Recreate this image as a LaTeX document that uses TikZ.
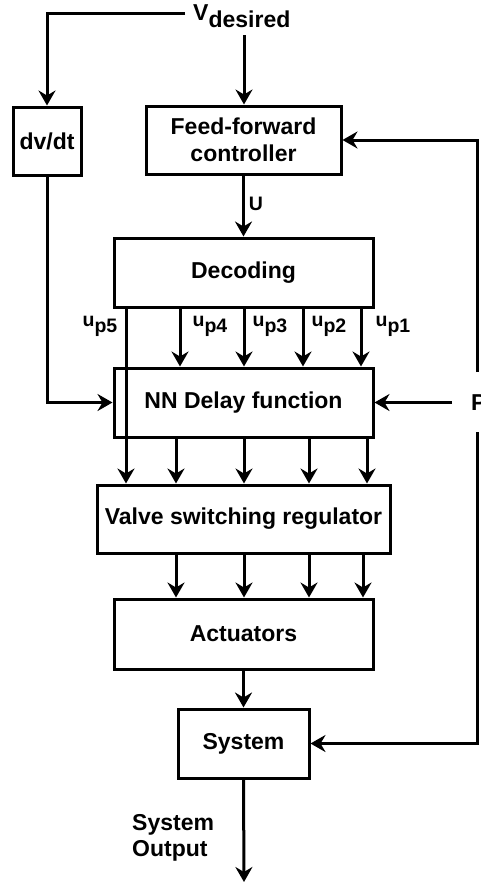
\documentclass[tikz,border=0pt]{standalone}
\usepackage{fontspec}
\setmainfont{Liberation Sans}
\usetikzlibrary{arrows.meta}
\begin{document}
\begin{tikzpicture}[x=1pt,y=-1pt,
  box/.style={draw, line width=3pt, inner sep=0pt, align=center,
    font=\fontsize{23}{27}\selectfont\bfseries},
  ar/.style={line width=3pt, -{Stealth[length=15pt,width=17pt,inset=5pt]}},
  lbl/.style={inner sep=0pt, font=\fontsize{19.5}{22}\selectfont\bfseries},
  big/.style={inner sep=0pt, align=left, font=\fontsize{23}{26}\selectfont\bfseries}]
\useasboundingbox (0,0) rectangle (480,884);

% boxes
\node[box, minimum width=68pt,  minimum height=68pt] (dvdt)  at (47,141)    {dv/dt};
\node[box, minimum width=195pt, minimum height=68pt] (ff)    at (243.5,140) {Feed-forward\\controller};
\node[box, minimum width=259pt, minimum height=69pt] (dec)   at (243.5,272.5) {Decoding};
\node[box, minimum width=259pt, minimum height=69pt] (nn)    at (243.5,402.5) {NN Delay function};
\node[box, minimum width=293pt, minimum height=68pt] (valve) at (243.5,519)  {Valve switching regulator};
\node[box, minimum width=259pt, minimum height=70pt] (act)   at (243.5,634)  {Actuators};
\node[box, minimum width=131pt, minimum height=69pt] (sys)   at (243.5,743.5) {System};

% labels
\node[big, anchor=north west] (vd) at (193,4) {V\raisebox{-7pt}{desired}};
\node[lbl] (U) at (256,204) {U};
\node[lbl] (u5) at (100,326) {u\raisebox{-6pt}{p5}};
\node[lbl] (u4) at (210,326) {u\raisebox{-6pt}{p4}};
\node[lbl] (u3) at (270,326) {u\raisebox{-6pt}{p3}};
\node[lbl] (u2) at (329,326) {u\raisebox{-6pt}{p2}};
\node[lbl] (u1) at (393,326) {u\raisebox{-6pt}{p1}};
\node[big, anchor=west] (so) at (132,838) {System\\Output};
\node[big, anchor=west] (P) at (471,403) {P};

% coordinates
\coordinate (vl) at (185,13);
\coordinate (vs) at (244,35);
\coordinate (fbT) at (477,140);
\coordinate (fbG1) at (477,372);
\coordinate (fbG2) at (477,432);
\coordinate (fbB) at (477,743.5);
\coordinate (pin) at (452,402.5);
\coordinate (out) at (244,882);

% connectors
\draw[ar] (vl) -- (vl -| dvdt.north) -- (dvdt.north);
\draw[ar] (vs) -- (vs |- ff.north);
\draw[ar] (ff.south) -- (ff.south |- dec.north);
\draw[ar] (dvdt.south) -- (dvdt.south |- nn.west) -- (nn.west);
\foreach \x in {180,244,303,361}
  \draw[ar] (dec.south -| \x,0) -- (nn.north -| \x,0);
\draw[ar] (dec.south -| 126,0) -- (valve.north -| 126,0);
\foreach \x in {176,244,309,367}
  \draw[ar] (nn.south -| \x,0) -- (valve.north -| \x,0);
\foreach \x in {176,244,309,363}
  \draw[ar] (valve.south -| \x,0) -- (act.north -| \x,0);
\draw[ar] (act.south) -- (act.south -| sys.north) -- (sys.north);
\draw[ar] (sys.south) -- (out);
\draw[ar] (pin) -- (nn.east);
\draw[ar] (fbG1) -- (fbT) -- (ff.east);
\draw[ar] (fbG2) -- (fbB) -- (sys.east);
\end{tikzpicture}
\end{document}
